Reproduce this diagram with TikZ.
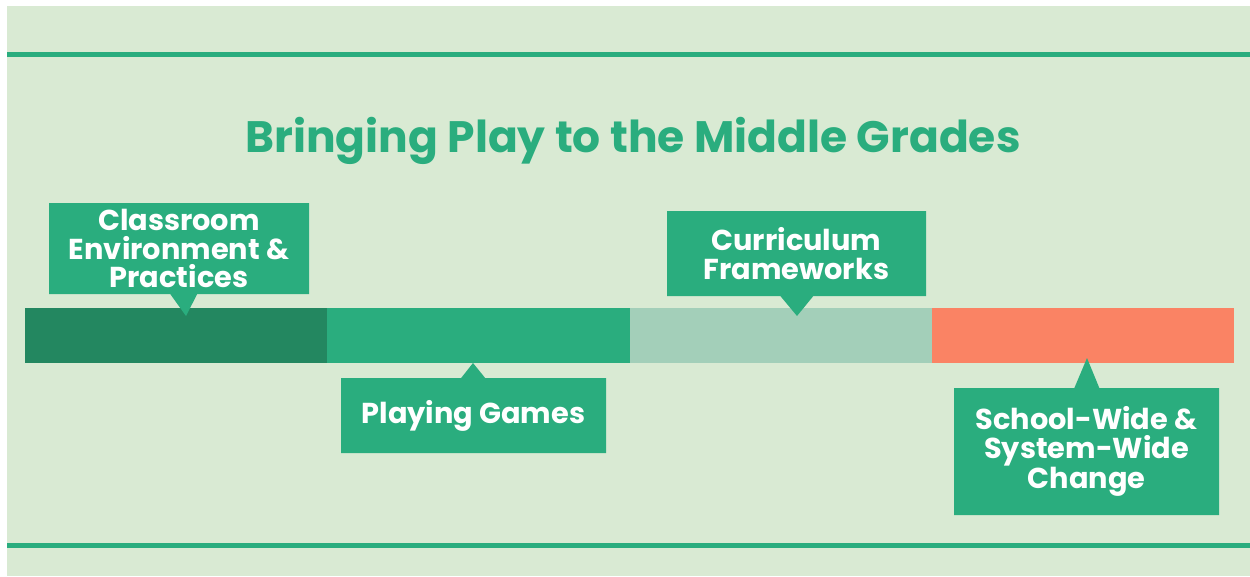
\documentclass[tikz,border=0pt]{standalone}
\usepackage{fontspec}
\setmainfont{Poppins}
\usetikzlibrary{shapes.callouts}
\definecolor{bgc}{HTML}{D9EAD3}
\definecolor{grn}{HTML}{2AAD7E}
\definecolor{dgrn}{HTML}{238760}
\definecolor{lgrn}{HTML}{A3CFB9}
\definecolor{orng}{HTML}{FA8364}
\tikzset{
  barseg/.style={rectangle, inner sep=0pt, outer sep=0pt, minimum width=302.25pt, minimum height=55pt, anchor=north west},
  callbox/.style={rectangle callout, fill=grn, inner sep=0pt, outer sep=0pt, text=white,
    font=\fontsize{28.8pt}{28.8pt}\selectfont\bfseries, align=center, callout pointer width=27pt},
  rule/.style={draw=grn, line width=5pt},
}
\begin{document}
\begin{tikzpicture}[x=1pt,y=-1pt]
\useasboundingbox (0,0) rectangle (1250,576);
\fill[white] (0,0) rectangle (1250,576);
\fill[bgc] (7,6) rectangle (1250,576);
\coordinate (tl) at (7,54);
\coordinate (tr) at (1250,54);
\coordinate (bl) at (7,545.5);
\coordinate (br) at (1250,545.5);
\draw[rule] (tl) -- (tr);
\draw[rule] (bl) -- (br);
\node[text=grn, font=\fontsize{44pt}{46pt}\selectfont\bfseries] (title) at (633,140.5) {Bringing Play to the Middle Grades};
\node[barseg, fill=dgrn] (bar1) at (25,308) {};
\node[barseg, fill=grn] (bar2) at (327.25,308) {};
\node[barseg, fill=lgrn] (bar3) at (629.5,308) {};
\node[barseg, fill=orng] (bar4) at (931.75,308) {};
\coordinate (p1) at (186,316);
\coordinate (p2) at (473,363);
\coordinate (p3) at (797,316);
\coordinate (p4) at (1087,358);
\node[callbox, minimum width=260pt, minimum height=91pt, callout absolute pointer={(p1)}] (c1) at (179,248.5) {Classroom\\Environment \&\\Practices};
\node[callbox, minimum width=265pt, minimum height=75pt, callout pointer width=24pt, callout absolute pointer={(p2)}] (c2) at (473.5,415.5) {Playing Games};
\node[callbox, minimum width=259pt, minimum height=85pt, callout pointer width=33pt, callout absolute pointer={(p3)}] (c3) at (796.5,253.5) {Curriculum\\Frameworks};
\node[callbox, minimum width=265pt, minimum height=127pt, callout pointer width=25pt, callout absolute pointer={(p4)}] (c4) at (1086.5,451.5) {School-Wide \&\\System-Wide\\Change};
\end{tikzpicture}
\end{document}
